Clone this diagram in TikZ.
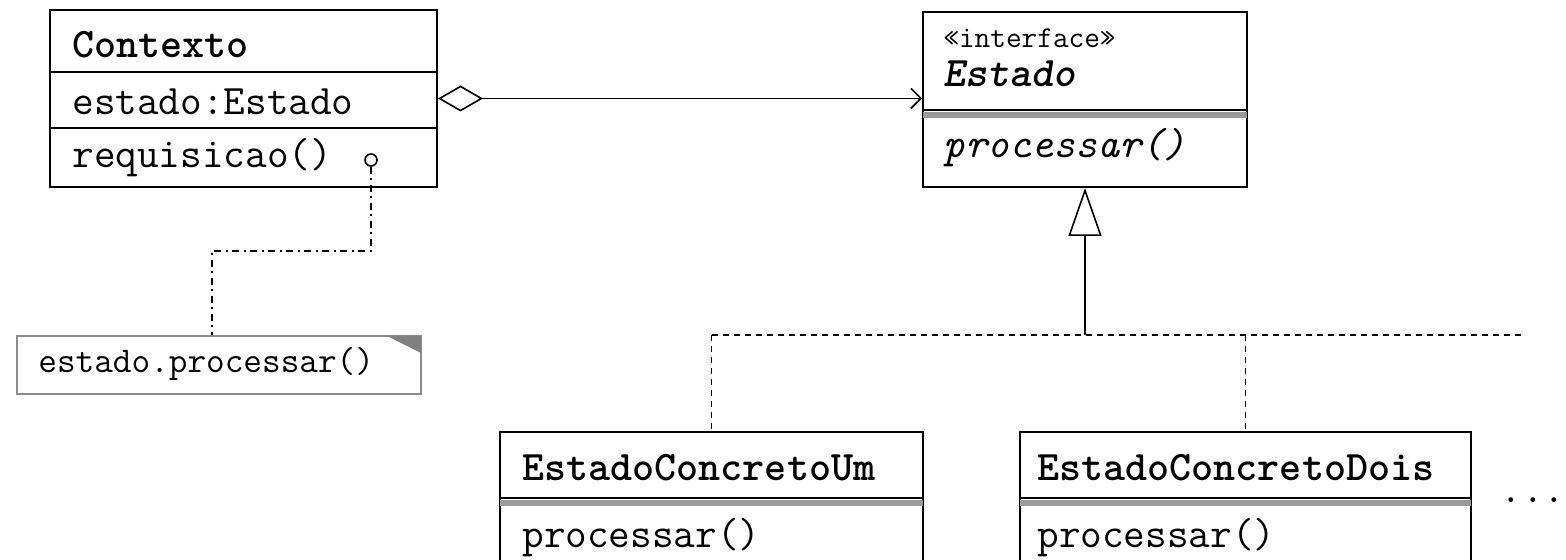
\documentclass[tikz,border=0pt]{standalone}
\usepackage{fontspec}
\usetikzlibrary{fit,arrows.meta}

\tikzset{
  classbox/.style={draw, line width=1pt, inner sep=0pt},
  notebox/.style={draw=black!45, line width=1pt, inner sep=0pt},
  member/.style={anchor=base west, inner sep=0pt, font=\ttfamily\fontsize{21}{24}\selectfont},
  title/.style={member, font=\ttfamily\bfseries\fontsize{21}{24}\selectfont},
  stereo/.style={member, font=\ttfamily\fontsize{15.2}{18}\selectfont},
  notetext/.style={member, font=\ttfamily\fontsize{18.1}{21}\selectfont},
  link/.style={line width=0.8pt},
  realize/.style={line width=0.8pt, dash pattern=on 3pt off 2.5pt},
  notelink/.style={line width=0.8pt, dash pattern=on 3.5pt off 2pt on 1pt off 2.5pt},
}

\begin{document}
\begin{tikzpicture}[x=0.5pt, y=-0.5pt]
  \clip (0,0) rectangle (1566,560);

  % Contexto
  \node[classbox, fit={(50,10) (437,187)}] (ctx) {};
  \draw[line width=1pt] (50,72) -- (437,72);
  \draw[line width=1pt] (50,128) -- (437,128);
  \node[title] (ctxname) at (72,58) {Contexto};
  \node[member] (ctxattr) at (72,115) {estado:Estado};
  \node[member] (ctxop) at (72,168) {requisicao()};
  \node[circle, draw, line width=0.8pt, minimum size=6pt, inner sep=0pt] (dot) at (371,160) {};

  % note
  \node[notebox, fit={(17,336) (421,394)}] (note) {};
  \fill[black!50] (387,336) -- (421,336) -- (421,353) -- cycle;
  \node[notetext] (notetxt) at (38,372) {estado.processar()};
  \coordinate (bend) at (212,251);
  \draw[notelink] (dot.south) |- (bend) -- (bend |- note.north);

  % Estado
  \node[classbox, fit={(923,12) (1247,187)}] (est) {};
  \draw[line width=1pt] (923,110) -- (1247,110);
  \draw[black!40, line width=3pt] (923,115) -- (1247,115);
  \node[stereo] (eststereo) at (943,48) {«interface»};
  \node[member, font=\ttfamily\bfseries\itshape\fontsize{21}{24}\selectfont] (estname) at (943,87) {Estado};
  \node[member, font=\ttfamily\itshape\fontsize{21}{24}\selectfont] (estop) at (943,158) {processar()};

  % aggregation
  \draw[link, {Diamond[open, length=22.5pt, width=13pt]}-{Straight Barb[length=5pt, width=10pt]}]
    (ctx.east) -- (ctx.east -| est.west);

  % concrete states
  \node[classbox, fit={(500,432) (923,580)}] (um) {};
  \draw[line width=1pt] (500,498) -- (923,498);
  \draw[black!40, line width=3pt] (500,503) -- (923,503);
  \node[title] (umname) at (522,480) {EstadoConcretoUm};
  \node[member] (umop) at (522,547) {processar()};

  \node[classbox, fit={(1020,432) (1471,580)}] (dois) {};
  \draw[line width=1pt] (1020,498) -- (1471,498);
  \draw[black!40, line width=3pt] (1020,503) -- (1471,503);
  \node[title] (doisname) at (1037,480) {EstadoConcretoDois};
  \node[member] (doisop) at (1037,547) {processar()};

  \node[member] (more) at (1500,502) {...};

  % realization
  \coordinate (jn) at (est.south |- 0,335);
  \coordinate (rend) at (1525,335);
  \draw[link, -{Triangle[open, length=24pt, width=16.5pt]}] (jn) -- (est.south);
  \draw[realize] (um.north |- jn) -- (rend);
  \draw[realize] (um.north |- jn) -- (um.north);
  \draw[realize] (dois.north |- jn) -- (dois.north);
\end{tikzpicture}
\end{document}
